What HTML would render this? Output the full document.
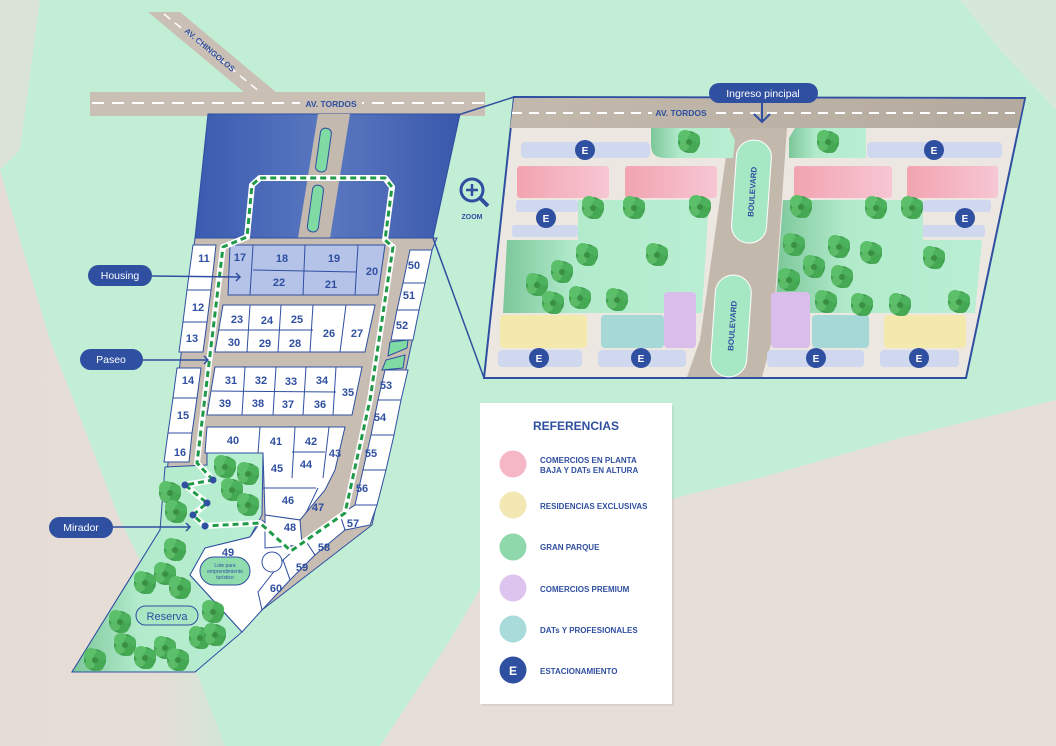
<!DOCTYPE html>
<html><head><meta charset="utf-8"><style>
html,body{margin:0;padding:0;width:1056px;height:746px;overflow:hidden;background:#e6dfd8}
svg{display:block;overflow:hidden}
text{font-family:"Liberation Sans",sans-serif}
</style></head><body>
<svg width="1056" height="746" viewBox="0 0 1056 746" xmlns="http://www.w3.org/2000/svg">
<defs>
<linearGradient id="lft" x1="0" y1="0" x2="1" y2="0"><stop offset="0" stop-color="#e6dcd6"/><stop offset="0.7" stop-color="#e4ded6"/><stop offset="1" stop-color="#d2e6d6"/></linearGradient>
<linearGradient id="blu" x1="0" y1="0" x2="1" y2="0"><stop offset="0" stop-color="#3a5bb0"/><stop offset="0.5" stop-color="#5a78c0"/><stop offset="1" stop-color="#3a58ab"/></linearGradient>
<linearGradient id="park" x1="0" y1="0" x2="1" y2="0"><stop offset="0" stop-color="#7cc79a"/><stop offset="0.35" stop-color="#b2ebcc"/><stop offset="1" stop-color="#b9eed2"/></linearGradient>
<linearGradient id="pink" x1="0" y1="0" x2="1" y2="0"><stop offset="0" stop-color="#f2a4b0"/><stop offset="1" stop-color="#f7c6d4"/></linearGradient>
<linearGradient id="road" x1="0" y1="0" x2="1" y2="0"><stop offset="0" stop-color="#c4b9ad"/><stop offset="1" stop-color="#b5aa9e"/></linearGradient>
<g id="tr"><circle r="11" fill="#3f9e4e"/><circle cx="-4" cy="-5" r="7" fill="#5bc069"/><circle cx="5" cy="-3" r="6" fill="#4cb15c"/><circle cx="3" cy="5" r="6" fill="#45a853"/><circle cx="-5" cy="4" r="5" fill="#5bbb67"/><circle cx="0" cy="0" r="3" fill="#3a8f45"/></g>
</defs>
<rect width="1056" height="746" fill="#c2eed6"/>
<polygon points="0,170 20,240 50,340 120,520 200,680 225,746 0,746" fill="url(#lft)"/>
<polygon points="0,0 40,0 20,150 0,170" fill="#dbe3d9"/>
<polygon points="1056,400 900,438 760,478 690,494 600,520 500,555 450,640 380,746 1056,746" fill="#e6dfd8"/>
<polygon points="1056,0 1056,110 1000,50 960,0" fill="#d6e8da"/>

<polygon points="148,12 180,12 277,93 245,93" fill="#c9bfb5"/>
<line x1="164" y1="14" x2="260" y2="92" stroke="#fff" stroke-width="1.5" stroke-dasharray="8,6"/>
<text x="208" y="52" font-size="8" font-weight="bold" fill="#2f4fa0" transform="rotate(40 208 52)" text-anchor="middle">AV. CHINGOLOS</text>
<rect x="90" y="92" width="395" height="24" fill="#c9bfb5"/>
<line x1="92" y1="103" x2="485" y2="103" stroke="#fff" stroke-width="2" stroke-dasharray="12,8"/>
<rect x="300" y="98" width="62" height="10" fill="#c9bfb5"/>
<text x="331" y="107" font-size="8.5" font-weight="bold" fill="#2f4fa0" text-anchor="middle">AV. TORDOS</text>

<polygon points="208,114 460,114 433,238 195,238" fill="url(#blu)" stroke="#2f4fa0"/>
<polygon points="318,114 350,114 330,238 298,238" fill="#c3b9ae"/>
<rect x="318" y="128" width="11" height="44" rx="5" fill="#7fdaa3" stroke="#2f4fa0" transform="rotate(8 323 150)"/>
<rect x="310" y="185" width="11" height="47" rx="5" fill="#7fdaa3" stroke="#2f4fa0" transform="rotate(8 315 208)"/>

<polygon points="195,238 437,238 432,250 372,525 262,610 195,672 72,672 160,530" fill="#c7bdb2" stroke="#2f4fa0"/>
<polygon points="165,467 207,465 207,453 263,453 262,515 250,537 205,548 190,575 242,632 195,672 72,672 160,530" fill="url(#park)" stroke="#2f4fa0"/>
<polygon points="205,548 250,537 262,520 300,555 290,580 262,610 242,632 190,575" fill="#fff" stroke="#2f4fa0"/>

<g fill="#fff" stroke="#2f4fa0" stroke-width="1">
<polygon points="193,245 216,245 211,290 187,290"/>
<polygon points="187,290 211,290 207,322 183,322"/>
<polygon points="183,322 207,322 203,352 179,352"/>
<polygon points="177,368 201,368 197,398 173,398"/>
<polygon points="173,398 197,398 192,433 168,433"/>
<polygon points="168,433 192,433 189,462 164,462"/>
<polygon points="230,245 385,245 378,295 228,295" fill="#b5c3e8"/>
<line x1="253" y1="245" x2="250" y2="295"/><line x1="305" y1="245" x2="303" y2="295"/><line x1="358" y1="245" x2="355" y2="295"/><line x1="253" y1="270" x2="356" y2="272"/>
<polygon points="223,305 375,305 365,352 215,352"/>
<line x1="250" y1="305" x2="247" y2="352"/><line x1="281" y1="305" x2="278" y2="352"/><line x1="313" y1="305" x2="310" y2="352"/><line x1="346" y1="305" x2="340" y2="352"/><line x1="219" y1="330" x2="313" y2="330"/>
<polygon points="215,367 362,367 352,415 207,415"/>
<line x1="245" y1="367" x2="242" y2="415"/><line x1="276" y1="367" x2="273" y2="415"/><line x1="306" y1="367" x2="303" y2="415"/><line x1="336" y1="367" x2="333" y2="415"/><line x1="211" y1="391" x2="336" y2="392"/>
<polygon points="207,427 345,427 335,470 330,480 325,490 300,520 265,515 263,453 205,453"/>
<line x1="260" y1="427" x2="258" y2="453"/><line x1="295" y1="427" x2="292" y2="478"/><line x1="329" y1="427" x2="323" y2="478"/><line x1="292" y1="452" x2="325" y2="452"/><line x1="263" y1="488" x2="316" y2="488"/><line x1="306" y1="513" x2="318" y2="488"/>
<polygon points="265,515 300,520 302,545 265,548"/>
<polygon points="410,250 432,250 425,283 403,283"/>
<polygon points="403,283 425,283 419,310 397,310"/>
<polygon points="397,310 419,310 413,340 391,340"/>
<polygon points="385,370 408,370 401,400 378,400"/>
<polygon points="378,400 401,400 394,435 371,435"/>
<polygon points="371,435 394,435 386,470 363,470"/>
<polygon points="363,470 386,470 377,505 355,505"/>
<polygon points="355,505 377,505 370,525 345,530 340,515"/>
<polygon points="340,515 345,530 315,555 305,540"/>
<polygon points="305,540 315,555 290,580 283,560"/>
<polygon points="283,560 290,580 262,610 258,592"/>
</g>
<polygon points="390,342 408,340 407,348 388,356" fill="#7fdaa3" stroke="#2f4fa0"/>
<polygon points="386,360 405,355 403,368 382,370" fill="#7fdaa3" stroke="#2f4fa0"/>
<circle cx="272" cy="562" r="10" fill="#fff" stroke="#2f4fa0"/>

<g font-size="11" font-weight="bold" fill="#2f4fa0" text-anchor="middle">
<text x="204" y="262">11</text><text x="198" y="311">12</text><text x="192" y="342">13</text><text x="188" y="384">14</text><text x="183" y="419">15</text><text x="180" y="456">16</text>
<text x="240" y="261">17</text><text x="282" y="262">18</text><text x="334" y="262">19</text><text x="372" y="275">20</text><text x="279" y="286">22</text><text x="331" y="288">21</text>
<text x="237" y="323">23</text><text x="267" y="324">24</text><text x="297" y="323">25</text><text x="329" y="337">26</text><text x="357" y="337">27</text><text x="234" y="346">30</text><text x="265" y="347">29</text><text x="295" y="347">28</text>
<text x="231" y="384">31</text><text x="261" y="384">32</text><text x="291" y="385">33</text><text x="322" y="384">34</text><text x="348" y="396">35</text><text x="225" y="407">39</text><text x="258" y="407">38</text><text x="288" y="408">37</text><text x="320" y="408">36</text>
<text x="233" y="444">40</text><text x="276" y="445">41</text><text x="311" y="445">42</text><text x="335" y="457">43</text><text x="306" y="468">44</text><text x="277" y="472">45</text><text x="288" y="504">46</text><text x="318" y="511">47</text><text x="290" y="531">48</text><text x="228" y="556">49</text>
<text x="414" y="269">50</text><text x="409" y="299">51</text><text x="402" y="329">52</text><text x="386" y="389">53</text><text x="380" y="421">54</text><text x="371" y="457">55</text><text x="362" y="492">56</text><text x="353" y="527">57</text><text x="324" y="551">58</text><text x="302" y="571">59</text><text x="276" y="592">60</text>
</g>

<polyline points="213,480 197,463 207,380 223,247 247,237 252,185 260,178 385,178 392,187 385,240 393,247 370,400 345,513 291,551 260,523 205,526 193,515 207,503 185,485 213,480" fill="none" stroke="#fff" stroke-width="6" stroke-linejoin="round"/>
<polyline points="213,480 197,463 207,380 223,247 247,237 252,185 260,178 385,178 392,187 385,240 393,247 370,400 345,513 291,551 260,523 205,526 193,515 207,503 185,485 213,480" fill="none" stroke="#1f9a48" stroke-width="3" stroke-dasharray="6,4" stroke-linejoin="round"/>
<g fill="#2f4fa0"><circle cx="205" cy="526" r="3.5"/><circle cx="193" cy="515" r="3.5"/><circle cx="207" cy="503" r="3.5"/><circle cx="185" cy="485" r="3.5"/><circle cx="213" cy="480" r="3.5"/></g>

<use href="#tr" x="225" y="467"/><use href="#tr" x="248" y="474"/><use href="#tr" x="232" y="490"/><use href="#tr" x="248" y="505"/><use href="#tr" x="170" y="493"/><use href="#tr" x="176" y="512"/>
<use href="#tr" x="175" y="550"/><use href="#tr" x="165" y="574"/><use href="#tr" x="180" y="588"/><use href="#tr" x="145" y="583"/><use href="#tr" x="213" y="612"/><use href="#tr" x="200" y="638"/><use href="#tr" x="120" y="622"/><use href="#tr" x="125" y="645"/><use href="#tr" x="145" y="658"/><use href="#tr" x="165" y="648"/><use href="#tr" x="95" y="660"/><use href="#tr" x="178" y="660"/><use href="#tr" x="215" y="635"/>

<rect x="200" y="557" width="50" height="28" rx="14" fill="#8fdcae" stroke="#2f4fa0"/>
<text x="225" y="567" font-size="5" fill="#2f4fa0" text-anchor="middle">Lote para</text>
<text x="225" y="573" font-size="5" fill="#2f4fa0" text-anchor="middle">emprendimiento</text>
<text x="225" y="579" font-size="5" fill="#2f4fa0" text-anchor="middle">turístico</text>
<rect x="136" y="606" width="62" height="19" rx="9.5" fill="#a8e6c4" stroke="#2f4fa0"/>
<text x="167" y="620" font-size="11" fill="#2f4fa0" text-anchor="middle">Reserva</text>

<g fill="#2f4fa0">
<rect x="88" y="265" width="64" height="21" rx="10.5"/><rect x="80" y="349" width="63" height="21" rx="10.5"/><rect x="49" y="517" width="64" height="21" rx="10.5"/>
</g>
<g stroke="#2f4fa0" stroke-width="1.5" fill="none">
<line x1="152" y1="276" x2="240" y2="277"/><polyline points="236,273 240,277 236,281"/>
<line x1="143" y1="360" x2="208" y2="360"/><polyline points="204,356 208,360 204,364"/>
<line x1="113" y1="527" x2="190" y2="527"/><polyline points="186,523 190,527 186,531"/>
</g>
<g fill="#fff" font-size="10.5" text-anchor="middle"><text x="120" y="279">Housing</text><text x="111" y="363">Paseo</text><text x="81" y="531">Mirador</text></g>

<line x1="458" y1="115" x2="514" y2="97" stroke="#2f4fa0" stroke-width="1.5"/>
<line x1="433" y1="238" x2="484" y2="378" stroke="#2f4fa0" stroke-width="1.5"/>
<circle cx="472" cy="190" r="11" fill="none" stroke="#2f4fa0" stroke-width="3"/>
<line x1="480" y1="198" x2="488" y2="206" stroke="#2f4fa0" stroke-width="4"/>
<path d="M466 190h12M472 184v12" stroke="#2f4fa0" stroke-width="2.5"/>
<text x="472" y="219" font-size="7" font-weight="bold" fill="#2f4fa0" text-anchor="middle">ZOOM</text>

<polygon points="514,97 1025,98 966,378 484,378" fill="#ede7e1" stroke="#2f4fa0" stroke-width="2"/>
<polygon points="514,98 1024,99 1018,128 510,128" fill="url(#road)"/>
<line x1="512" y1="113" x2="1020" y2="113" stroke="#fff" stroke-width="2" stroke-dasharray="10,7"/>
<rect x="652" y="107" width="58" height="11" fill="#bfb5a9"/>
<text x="681" y="116" font-size="8.5" font-weight="bold" fill="#2f4fa0" text-anchor="middle">AV. TORDOS</text>
<polygon points="730,128 787,128 772,340 762,377 687,377 700,340" fill="#c2b8ac"/>
<rect x="734" y="140" width="35" height="103" rx="17" fill="#a6e8c4" stroke="#fff" transform="rotate(4 751 191)"/>
<rect x="713" y="275" width="36" height="102" rx="18" fill="#a6e8c4" stroke="#fff" transform="rotate(4 731 326)"/>
<text font-size="8" font-weight="bold" fill="#2f4fa0" transform="translate(755 192) rotate(-86)" text-anchor="middle">BOULEVARD</text>
<text font-size="8" font-weight="bold" fill="#2f4fa0" transform="translate(735 326) rotate(-86)" text-anchor="middle">BOULEVARD</text>

<path d="M651 128 H728 L735 140 L733 158 H665 Q651 158 651 145 Z" fill="url(#park)"/>
<rect x="521" y="142" width="129" height="16" rx="4" fill="#cfd8ee"/>
<rect x="517" y="166" width="92" height="32" rx="3" fill="url(#pink)"/>
<rect x="625" y="166" width="92" height="32" rx="3" fill="url(#pink)"/>
<rect x="516" y="200" width="62" height="12" rx="3" fill="#cfd8ee"/>
<rect x="512" y="225" width="66" height="12" rx="3" fill="#cfd8ee"/>
<polygon points="578,200 709,200 702,313 503,313 507,240 578,240" fill="url(#park)"/>
<rect x="500" y="315" width="87" height="33" rx="4" fill="#f3e9ac"/>
<rect x="601" y="315" width="63" height="33" rx="4" fill="#a6d8d8"/>
<rect x="664" y="292" width="32" height="56" rx="4" fill="#d9bdeb"/>
<rect x="498" y="350" width="84" height="17" rx="4" fill="#cfd8ee"/>
<rect x="598" y="350" width="88" height="17" rx="4" fill="#cfd8ee"/>
<path d="M795 128 H866 V158 H789 L789 138 Z" fill="url(#park)"/>
<rect x="867" y="142" width="135" height="16" rx="4" fill="#cfd8ee"/>
<rect x="794" y="166" width="98" height="32" rx="3" fill="url(#pink)"/>
<rect x="907" y="166" width="91" height="32" rx="3" fill="url(#pink)"/>
<rect x="923" y="200" width="68" height="12" rx="3" fill="#cfd8ee"/>
<rect x="922" y="225" width="63" height="12" rx="3" fill="#cfd8ee"/>
<polygon points="783,200 923,200 923,240 982,240 975,313 775,313" fill="url(#park)"/>
<rect x="771" y="292" width="39" height="56" rx="4" fill="#d9bdeb"/>
<rect x="812" y="315" width="57" height="33" rx="4" fill="#a6d8d8"/>
<rect x="884" y="315" width="82" height="33" rx="4" fill="#f3e9ac"/>
<rect x="767" y="350" width="97" height="17" rx="4" fill="#cfd8ee"/>
<rect x="880" y="350" width="79" height="17" rx="4" fill="#cfd8ee"/>

<g>
<use href="#tr" x="689" y="142"/><use href="#tr" x="593" y="208"/><use href="#tr" x="634" y="208"/><use href="#tr" x="700" y="207"/><use href="#tr" x="587" y="255"/><use href="#tr" x="562" y="272"/><use href="#tr" x="537" y="285"/><use href="#tr" x="553" y="303"/><use href="#tr" x="580" y="298"/><use href="#tr" x="617" y="300"/><use href="#tr" x="657" y="255"/>
<use href="#tr" x="828" y="142"/><use href="#tr" x="801" y="207"/><use href="#tr" x="876" y="208"/><use href="#tr" x="912" y="208"/><use href="#tr" x="794" y="245"/><use href="#tr" x="839" y="247"/><use href="#tr" x="871" y="253"/><use href="#tr" x="814" y="267"/><use href="#tr" x="842" y="277"/><use href="#tr" x="789" y="280"/><use href="#tr" x="826" y="302"/><use href="#tr" x="862" y="305"/><use href="#tr" x="900" y="305"/><use href="#tr" x="959" y="302"/><use href="#tr" x="934" y="258"/>
</g>
<g fill="#2f4fa0"><circle cx="585" cy="150" r="10"/><circle cx="546" cy="218" r="10"/><circle cx="539" cy="358" r="10"/><circle cx="641" cy="358" r="10"/><circle cx="934" cy="150" r="10"/><circle cx="965" cy="218" r="10"/><circle cx="816" cy="358" r="10"/><circle cx="919" cy="358" r="10"/></g>
<g fill="#fff" font-size="10" font-weight="bold" text-anchor="middle"><text x="585" y="154">E</text><text x="546" y="222">E</text><text x="539" y="362">E</text><text x="641" y="362">E</text><text x="934" y="154">E</text><text x="965" y="222">E</text><text x="816" y="362">E</text><text x="919" y="362">E</text></g>

<rect x="709" y="83" width="109" height="20" rx="10" fill="#2f4fa0"/>
<text x="763" y="97" font-size="10.5" fill="#fff" text-anchor="middle">Ingreso pincipal</text>
<line x1="762" y1="103" x2="762" y2="122" stroke="#2f4fa0" stroke-width="2"/>
<polyline points="754,114 762,122 770,114" fill="none" stroke="#2f4fa0" stroke-width="2"/>

<rect x="482" y="406" width="192" height="300" fill="#000" opacity="0.06"/>
<rect x="480" y="403" width="192" height="301" fill="#fff"/>
<text x="576" y="430" font-size="12" font-weight="bold" fill="#2f4fa0" text-anchor="middle">REFERENCIAS</text>
<circle cx="513" cy="464" r="13.5" fill="#f5b6c6"/>
<circle cx="513" cy="505" r="13.5" fill="#f3e8b4"/>
<circle cx="513" cy="547" r="13.5" fill="#8fd8ab"/>
<circle cx="513" cy="588" r="13.5" fill="#dcc4ee"/>
<circle cx="513" cy="629" r="13.5" fill="#a9dbdb"/>
<circle cx="513" cy="670" r="13.5" fill="#2f4fa0"/>
<text x="513" y="675" font-size="12" font-weight="bold" fill="#fff" text-anchor="middle">E</text>
<g font-size="8" font-weight="bold" fill="#2f4fa0">
<text x="540" y="463">COMERCIOS EN PLANTA</text><text x="540" y="473">BAJA Y DATs EN ALTURA</text>
<text x="540" y="509">RESIDENCIAS EXCLUSIVAS</text>
<text x="540" y="550">GRAN PARQUE</text>
<text x="540" y="592">COMERCIOS PREMIUM</text>
<text x="540" y="633">DATs Y PROFESIONALES</text>
<text x="540" y="674">ESTACIONAMIENTO</text>
</g>
</svg>
</body></html>
